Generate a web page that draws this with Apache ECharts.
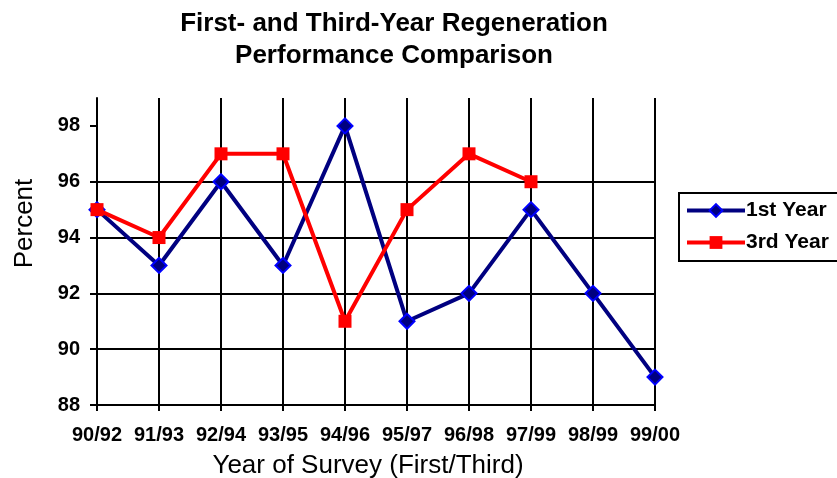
<!DOCTYPE html>
<html>
<head>
<meta charset="utf-8">
<script src="https://cdn.jsdelivr.net/npm/echarts@6/dist/echarts.min.js"></script>
<style>
  html, body { margin: 0; padding: 0; background: #fff; }
  #chart { width: 837px; height: 478px; }
</style>
</head>
<body>
<div id="chart"></div>
<script>
const surveys = ['90/92', '91/93', '92/94', '93/95', '94/96', '95/97', '96/98', '97/99', '98/99', '99/00']
const firstYear = [95, 93, 96, 93, 98, 91, 92, 95, 92, 89]
const thirdYear = [95, 94, 97, 97, 91, 95, 97, 96, null, null]
const yTicks = [88, 90, 92, 94, 96, 98]

const font = 'Liberation Sans, Arial, sans-serif'
const chart = echarts.init(document.getElementById('chart'))

chart.setOption({
  backgroundColor: '#fff',
  animation: false,
  textStyle: { fontFamily: font },
  title: {
    text: 'First- and Third-Year Regeneration\nPerformance Comparison',
    left: 389,
    textAlign: 'center',
    top: 3,
    textStyle: {
      fontFamily: font,
      fontSize: 26,
      fontWeight: 'bold',
      color: '#000',
      lineHeight: 32
    }
  },
  legend: {
    left: 679,
    top: 193,
    orient: 'vertical',
    borderColor: '#000',
    borderWidth: 2,
    padding: [7, 10, 8, 6],
    itemGap: 11,
    itemWidth: 58,
    itemHeight: 16,
    lineStyle: { width: 4 },
    textStyle: { fontFamily: font, fontSize: 21, fontWeight: 'bold', color: '#000', padding: [0, 0, 0, -4] },
    data: ['1st Year', '3rd Year']
  },
  grid: {
    left: 97,
    right: 182,
    top: 98,
    bottom: 73,
    containLabel: false,
    outerBoundsMode: 'none'
  },
  xAxis: {
    type: 'category',
    data: surveys,
    boundaryGap: false,
    name: 'Year of Survey (First/Third)',
    nameLocation: 'middle',
    nameGap: 48,
    nameTextStyle: { fontFamily: font, fontSize: 26, color: '#000', padding: [0, 16, 0, 0] },
    axisLine: { lineStyle: { color: '#000', width: 2 } },
    axisTick: { show: true, interval: 0, alignWithLabel: true, length: 6, lineStyle: { color: '#000', width: 2 } },
    axisLabel: { interval: 0, hideOverlap: false, fontFamily: font, fontSize: 20, fontWeight: 'bold', color: '#000', margin: 20 },
    splitLine: { show: true, interval: 0, lineStyle: { color: '#000', width: 2 } }
  },
  yAxis: {
    type: 'value',
    min: 88,
    max: 99,
    interval: 2,
    name: 'Percent',
    nameLocation: 'middle',
    nameGap: 59,
    nameTextStyle: { fontFamily: font, fontSize: 26, color: '#000', padding: [0, 0, 0, 56] },
    axisLine: { show: true, lineStyle: { color: '#000', width: 2 } },
    axisTick: { show: true, length: 7, customValues: yTicks, lineStyle: { color: '#000', width: 2 } },
    axisLabel: { fontFamily: font, fontSize: 20, fontWeight: 'bold', color: '#000', margin: 17, customValues: yTicks },
    splitLine: { show: true, showMaxLine: false, lineStyle: { color: '#000', width: 2 } }
  },
  series: [
    {
      name: '1st Year',
      type: 'line',
      data: firstYear,
      symbol: 'diamond',
      symbolSize: 15,
      lineStyle: { color: '#000080', width: 4 },
      itemStyle: { color: '#000080', borderColor: '#0000ff', borderWidth: 2 },
      z: 3
    },
    {
      name: '3rd Year',
      type: 'line',
      data: thirdYear,
      symbol: 'rect',
      symbolSize: 13,
      lineStyle: { color: '#ff0000', width: 4 },
      itemStyle: { color: '#ff0000' },
      z: 4
    }
  ]
})
</script>
</body>
</html>
